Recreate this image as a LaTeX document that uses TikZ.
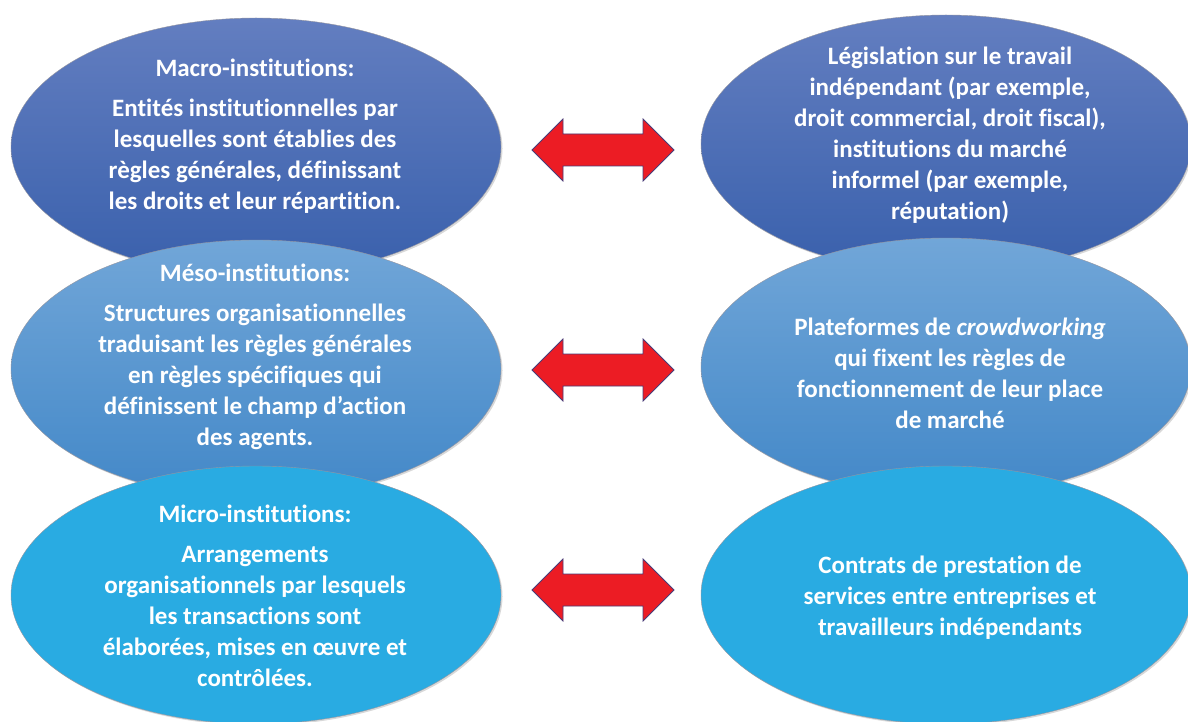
\documentclass[tikz,border=0pt]{standalone}
\usepackage{fontspec}
\setmainfont{Carlito}[Ligatures=NoCommon]
\usetikzlibrary{shapes.geometric,shadows}
\definecolor{topA}{RGB}{99,126,192}
\definecolor{topB}{RGB}{57,96,172}
\definecolor{midA}{RGB}{113,166,216}
\definecolor{midB}{RGB}{67,136,200}
\definecolor{lowC}{RGB}{41,171,226}
\definecolor{arrRed}{RGB}{236,28,36}
\definecolor{arrLine}{RGB}{72,60,120}
\tikzset{
  oval/.style={ellipse, minimum width=490pt, minimum height=258pt, inner sep=0pt,
    draw={rgb,255:red,150;green,150;blue,160}, line width=0.4pt,
    drop shadow={shadow xshift=1.5pt, shadow yshift=-1.5pt, opacity=0.25, fill=black!60}},
  ovtop/.style={oval, top color=topA, bottom color=topB},
  ovmid/.style={oval, top color=midA, bottom color=midB},
  ovlow/.style={oval, fill=lowC},
  txt/.style={align=center, text=white, font=\fontsize{25pt}{31pt}\selectfont\bfseries, inner sep=0pt},
  redarrow/.style={fill=arrRed, draw=arrLine, line width=0.8pt, line join=miter},
  dbl/.pic={\path[redarrow] (-71,0) -- (-40,-31) -- (-40,-16) -- (40,-16) -- (40,-31) -- (71,0)
      -- (40,31) -- (40,16) -- (-40,16) -- (-40,31) -- cycle;}
}
\begin{document}
\begin{tikzpicture}[x=1pt,y=-1pt]
\useasboundingbox[fill=white] (0,0) rectangle (1188,722);
% top row
\node[ovtop] (lt) at (256,147) {};
\node[ovtop] (rt) at (946,144) {};
\node[txt] (tlt) at (255,136) {Macro-institutions:\\[9pt]Entités institutionnelles par\\lesquelles sont établies des\\règles générales, définissant\\les droits et leur répartition.};
\node[txt] (trt) at (950,135) {Législation sur le travail\\indépendant (par exemple,\\droit commercial, droit fiscal),\\institutions du marché\\informel (par exemple,\\réputation)};
% middle row
\node[ovmid] (lm) at (256,369) {};
\node[ovmid] (rm) at (946,367) {};
\node[txt] (tlm) at (255,357) {Méso-institutions:\\[9pt]Structures organisationnelles\\traduisant les règles générales\\en règles spécifiques qui\\définissent le champ d’action\\des agents.};
\node[txt] (trm) at (950,373) {Plateformes de \textit{crowdworking}\\qui fixent les règles de\\fonctionnement de leur place\\de marché};
% bottom row
\node[ovlow] (lb) at (256,595) {};
\node[ovlow] (rb) at (946,595) {};
\node[txt] (tlb) at (255,596) {Micro-institutions:\\[9pt]Arrangements\\organisationnels par lesquels\\les transactions sont\\élaborées, mises en œuvre et\\contrôlées.};
\node[txt] (trb) at (950,598) {Contrats de prestation de\\services entre entreprises et\\travailleurs indépendants};
% arrows
\pic (a1) at (603,150) {dbl};
\pic (a2) at (603,370) {dbl};
\pic (a3) at (603,590) {dbl};
\end{tikzpicture}
\end{document}
